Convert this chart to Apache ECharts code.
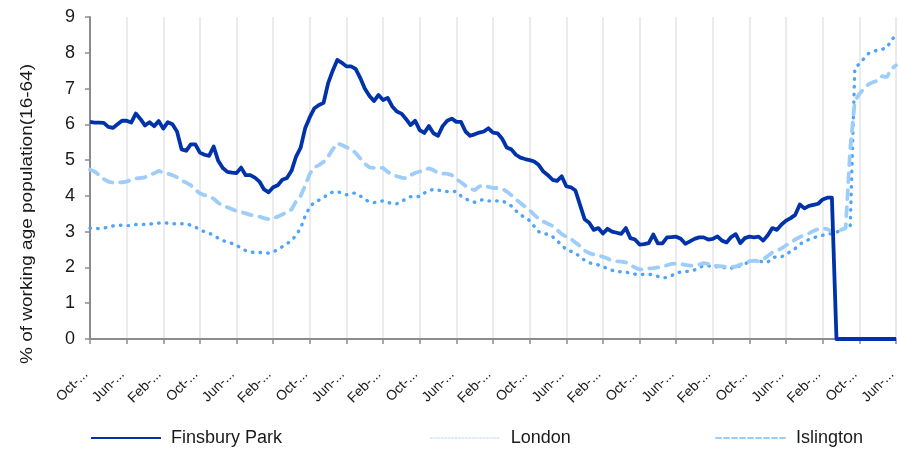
<!DOCTYPE html>
<html>
<head>
<meta charset="utf-8">
<script src="https://cdn.jsdelivr.net/npm/echarts@6/dist/echarts.min.js"></script>
<style>
html,body{margin:0;padding:0;background:#fff;}
#chart{width:898px;height:449px;}
</style>
</head>
<body>
<div id="chart"></div>
<script>
// Category labels: monthly, Oct-2006 ... Jun-2021
const monthNames = ['Jan','Feb','Mar','Apr','May','Jun','Jul','Aug','Sep','Oct','Nov','Dec'];
const categories = [];
for (let i = 0; i < 177; i++) {
  const m = (9 + i) % 12;
  const y = 2006 + Math.floor((9 + i) / 12);
  categories.push(monthNames[m] + '-' + y);
}

const yTicks = [0,1,2,3,4,5,6,7,8,9];

const finsburyPark = [
  6.07, 6.05, 6.05, 6.04, 5.93, 5.9, 6.0, 6.1, 6.1, 6.05,
  6.3, 6.15, 5.97, 6.06, 5.95, 6.09, 5.88, 6.06, 6.0, 5.8,
  5.3, 5.26, 5.44, 5.44, 5.21, 5.15, 5.12, 5.38, 4.98, 4.78,
  4.67, 4.65, 4.64, 4.79, 4.58, 4.58, 4.51, 4.4, 4.18, 4.1,
  4.24, 4.3, 4.45, 4.5, 4.7, 5.1, 5.35, 5.9, 6.2, 6.45,
  6.54, 6.6, 7.15, 7.5, 7.8, 7.72, 7.62, 7.62, 7.55, 7.3,
  7.0, 6.8, 6.65, 6.82, 6.68, 6.74, 6.5, 6.36, 6.3, 6.15,
  5.98, 6.1, 5.84, 5.76, 5.95, 5.75, 5.68, 5.95, 6.1, 6.16,
  6.07, 6.07, 5.8, 5.68, 5.72, 5.77, 5.8, 5.89, 5.77, 5.75,
  5.6, 5.35, 5.3, 5.15, 5.07, 5.03, 5.0, 4.96, 4.86, 4.68,
  4.58, 4.45, 4.42, 4.55, 4.27, 4.24, 4.15, 3.75, 3.35, 3.25,
  3.05, 3.1, 2.95, 3.08, 3.0, 2.97, 2.94, 3.1, 2.82, 2.78,
  2.64, 2.65, 2.68, 2.92, 2.67, 2.67, 2.84, 2.85, 2.86, 2.8,
  2.66, 2.73, 2.8, 2.84, 2.84, 2.78, 2.8, 2.87, 2.75, 2.7,
  2.85, 2.93, 2.68, 2.82, 2.86, 2.84, 2.86, 2.75, 2.9, 3.1,
  3.05, 3.2, 3.31, 3.38, 3.47, 3.76, 3.65, 3.72, 3.75, 3.78,
  3.9, 3.95, 3.95, 0, 0, 0, 0, 0, 0, 0,
  0, 0, 0, 0, 0, 0, 0
];

const london = [
  3.1, 3.1, 3.08, 3.1, 3.13, 3.16, 3.18, 3.18, 3.17, 3.17,
  3.2, 3.21, 3.2, 3.21, 3.23, 3.24, 3.25, 3.24, 3.22, 3.22,
  3.22, 3.22, 3.18, 3.13, 3.05, 3.0, 2.96, 2.89, 2.82, 2.75,
  2.71, 2.67, 2.62, 2.54, 2.47, 2.43, 2.42, 2.42, 2.41, 2.4,
  2.43, 2.5, 2.58, 2.66, 2.75, 2.9, 3.1, 3.45, 3.68, 3.83,
  3.88, 3.95, 4.05, 4.11, 4.12, 4.08, 4.03, 4.07, 4.08, 4.0,
  3.9, 3.84, 3.81, 3.84, 3.86, 3.82, 3.78, 3.78, 3.84, 3.92,
  3.98, 3.99, 3.98, 4.08, 4.15, 4.18, 4.16, 4.14, 4.12, 4.13,
  4.12, 4.0, 3.92, 3.86, 3.82, 3.87, 3.9, 3.86, 3.86, 3.86,
  3.86, 3.8, 3.72, 3.58, 3.48, 3.38, 3.31, 3.15, 3.0, 2.94,
  2.93, 2.86, 2.75, 2.62, 2.5, 2.45, 2.4, 2.3, 2.2, 2.13,
  2.1, 2.07, 2.02, 1.97, 1.92, 1.88, 1.88, 1.87, 1.84, 1.81,
  1.79, 1.81, 1.81, 1.79, 1.75, 1.71, 1.72, 1.77, 1.85, 1.87,
  1.88, 1.9, 1.93, 1.99, 2.05, 2.05, 2.02, 2.02, 2.01, 1.98,
  1.98, 2.0, 2.05, 2.1, 2.16, 2.19, 2.19, 2.15, 2.15, 2.27,
  2.3, 2.3, 2.36, 2.45, 2.53, 2.65, 2.72, 2.78, 2.83, 2.87,
  2.9, 2.93, 2.95, 2.98, 3.05, 3.1, 3.12, 7.55, 7.7, 7.84,
  7.98, 8.03, 8.08, 8.1, 8.14, 8.35, 8.5
];

const islington = [
  4.73, 4.68, 4.58, 4.47, 4.4, 4.37, 4.37, 4.38, 4.4, 4.45,
  4.49, 4.5, 4.52, 4.58, 4.63, 4.7, 4.65, 4.62, 4.58, 4.52,
  4.43, 4.37, 4.3, 4.17, 4.07, 4.02, 3.98, 3.92, 3.81, 3.72,
  3.68, 3.63, 3.58, 3.55, 3.51, 3.47, 3.44, 3.42, 3.38, 3.35,
  3.37, 3.42, 3.48, 3.55, 3.62, 3.85, 4.0, 4.3, 4.62, 4.8,
  4.86, 4.95, 5.1, 5.3, 5.47, 5.42, 5.36, 5.31, 5.2, 5.05,
  4.9, 4.8, 4.78, 4.79, 4.78, 4.67, 4.59, 4.55, 4.51, 4.49,
  4.58, 4.64, 4.68, 4.72, 4.77, 4.72, 4.64, 4.62, 4.62, 4.58,
  4.47, 4.38, 4.28, 4.2, 4.16, 4.26, 4.3, 4.25, 4.22, 4.22,
  4.2, 4.12, 4.02, 3.9, 3.8, 3.7, 3.6, 3.47, 3.36, 3.28,
  3.22, 3.16, 3.05, 2.93, 2.86, 2.8, 2.7, 2.6, 2.47, 2.4,
  2.36, 2.33, 2.3, 2.25, 2.19, 2.17, 2.16, 2.14, 2.06, 2.0,
  1.94, 1.95, 1.97, 1.98, 2.0, 2.02, 2.06, 2.1, 2.11, 2.1,
  2.07, 2.05, 2.05, 2.08, 2.12, 2.1, 2.06, 2.04, 2.03, 2.02,
  2.02, 2.02, 2.08, 2.13, 2.17, 2.19, 2.17, 2.22, 2.32, 2.42,
  2.47, 2.53, 2.62, 2.7, 2.78, 2.85, 2.9, 2.95, 3.02, 3.07,
  3.1, 3.07, 3.0, 3.02, 3.05, 3.1, 5.3, 6.65, 6.85, 7.0,
  7.12, 7.18, 7.22, 7.35, 7.32, 7.55, 7.65
];

const seriesNames = ['Finsbury Park', 'London', 'Islington'];
const colors = { fp: '#0033A9', lon: '#4DA4FA', isl: '#9FCDF9' };
const FONT = "'Liberation Sans', Arial, sans-serif";

const chart = echarts.init(document.getElementById('chart'), null, { renderer: 'canvas' });

function legendFor(name, left, lineStyle) {
  return {
    show: true,
    data: [{
      name: name,
      lineStyle: lineStyle,
      itemStyle: { color: 'rgba(0,0,0,0)', opacity: 0, borderWidth: 0 }
    }],
    left: left,
    top: 429,
    padding: 0,
    itemWidth: 70,
    itemHeight: 14,
    selectedMode: false,
    textStyle: { fontFamily: FONT, fontSize: 18, lineHeight: 18, color: '#1a1a1a', padding: [0, 0, 0, 5] }
  };
}

chart.setOption({
  animation: false,
  backgroundColor: '#ffffff',
  grid: { left: 90, right: 2, top: 17, bottom: 110, containLabel: false, outerBoundsMode: 'none' },
  legend: [
    legendFor(seriesNames[0], 90, { color: colors.fp, width: 2, type: 'solid' }),
    legendFor(seriesNames[1], 430, { color: '#cfe4fa', width: 1.5, type: [1.5, 2] }),
    legendFor(seriesNames[2], 715, { color: colors.isl, width: 2, type: [5, 3] })
  ],
  xAxis: {
    type: 'category',
    data: categories,
    boundaryGap: false,
    axisLine: { show: true, lineStyle: { color: '#8c8c8c', width: 2 } },
    axisTick: { show: true, interval: 7, length: 5, lineStyle: { color: '#8c8c8c', width: 1.5 } },
    axisLabel: {
      interval: 7,
      rotate: 45,
      margin: 29,
      padding: [0, 6, 0, 0],
      fontFamily: FONT,
      fontSize: 14,
      color: '#1a1a1a',
      formatter: function (v) { return v.slice(0, 4) + '...'; }
    },
    splitLine: { show: true, interval: 7, lineStyle: { color: '#ebebeb', width: 2 } }
  },
  yAxis: {
    type: 'value',
    min: yTicks[0],
    max: yTicks[yTicks.length - 1],
    interval: 1,
    axisLine: { show: true, lineStyle: { color: '#8c8c8c', width: 2 } },
    axisTick: { show: true, length: 5, lineStyle: { color: '#8c8c8c', width: 1.5 } },
    axisLabel: { margin: 15, fontFamily: FONT, fontSize: 18, color: '#1a1a1a' },
    splitLine: { show: false }
  },
  graphic: [{
    type: 'text',
    x: 27,
    y: 214,
    rotation: Math.PI / 2,
    scaleY: 0.9,
    style: {
      text: '% of working age population(16-64)',
      fontFamily: FONT,
      fontSize: 19,
      fill: '#1a1a1a',
      textAlign: 'center',
      textVerticalAlign: 'middle'
    }
  }],
  series: [
    {
      name: seriesNames[0], type: 'line', data: finsburyPark, symbol: 'none', z: 5,
      lineStyle: { color: colors.fp, width: 3.8, join: 'round' },
      itemStyle: { color: colors.fp }
    },
    {
      name: seriesNames[1], type: 'line', data: london, symbol: 'none', z: 3,
      lineStyle: { color: colors.lon, width: 3.4, type: [0.5, 7.2], cap: 'round' },
      itemStyle: { color: colors.lon }
    },
    {
      name: seriesNames[2], type: 'line', data: islington, symbol: 'none', z: 4,
      lineStyle: { color: colors.isl, width: 3.8, type: [9, 8], cap: 'round' },
      itemStyle: { color: colors.isl }
    }
  ]
});
</script>
</body>
</html>
